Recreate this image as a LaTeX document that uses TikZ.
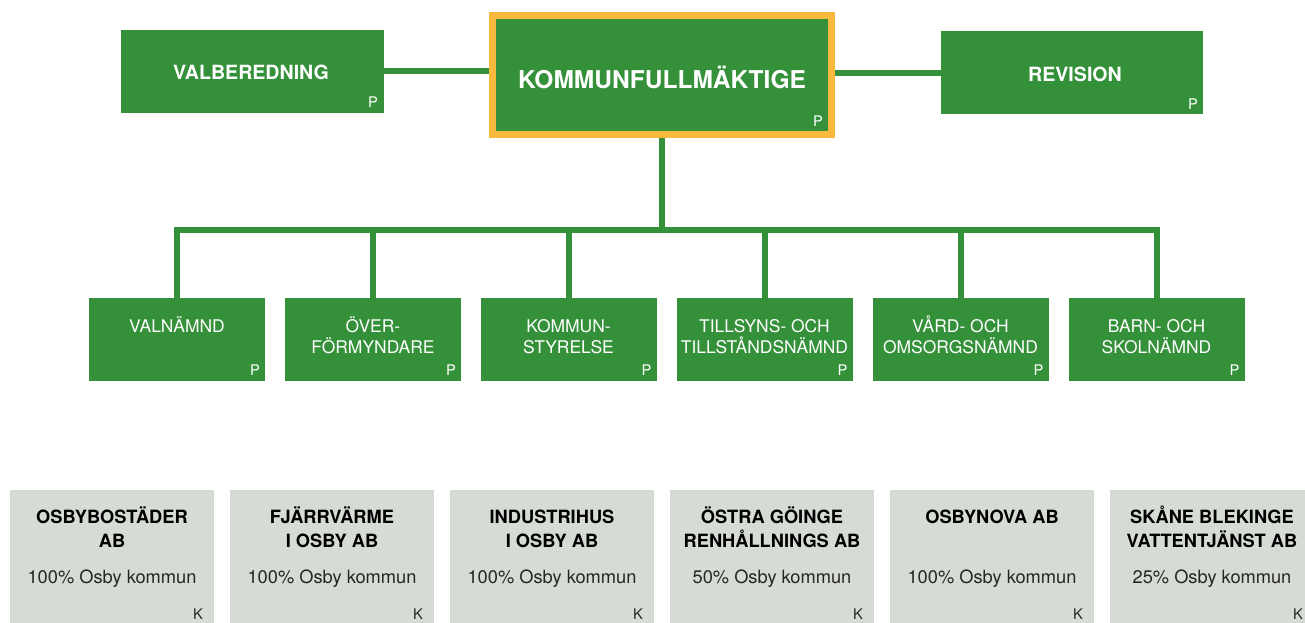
\documentclass[tikz,border=0pt]{standalone}
\usepackage{fontspec}
\setmainfont{TeX Gyre Heros}
\usetikzlibrary{calc}
\definecolor{kgreen}{RGB}{52,145,57}
\definecolor{korange}{RGB}{249,185,60}
\definecolor{kgray}{RGB}{214,219,212}
\newcommand{\tstr}{\rule{0pt}{14pt}}
\tikzset{
  gbox/.style={fill=kgreen, draw=none, inner sep=0pt, outer sep=0pt},
  topbox/.style={gbox, minimum width=197pt, minimum height=62.25pt},
  midbox/.style={gbox, minimum width=132pt, minimum height=62.25pt},
  botbox/.style={fill=kgray, draw=none, inner sep=0pt, outer sep=0pt, minimum width=153pt, minimum height=105pt},
  toptext/.style={text=white, inner sep=0pt, anchor=base, font=\fontsize{14.7}{17}\selectfont\bfseries},
  kftext/.style={text=white, inner sep=0pt, anchor=base, font=\fontsize{18.4}{22}\selectfont\bfseries},
  midtext/.style={text=white, inner sep=0pt, anchor=north, align=center, font=\fontsize{13.1}{15.75}\selectfont},
  bottitle/.style={text=black, inner sep=0pt, anchor=north, align=center, font=\fontsize{13.7}{18}\selectfont\bfseries},
  botpct/.style={text=black!85, inner sep=0pt, anchor=base, font=\fontsize{13.7}{16}\selectfont},
  pmark/.style={text=white, inner sep=0pt, font=\fontsize{11}{12}\selectfont},
  kmark/.style={text=black!85, inner sep=0pt, font=\fontsize{11}{12}\selectfont},
  conn/.style={draw=kgreen, line width=4.5pt}
}
\begin{document}
\begin{tikzpicture}[x=0.75pt,y=-0.75pt]
\useasboundingbox (0,0) rectangle (1305,622);
\clip (0,0) rectangle (1305,622);
% top row
\node[topbox, minimum width=197.25pt] (val) at (252.5,71) {};
\node[toptext] (valt) at (251,79) {VALBEREDNING};
\node[pmark] (valp) at ($(val.south east)+(-11,-10)$) {P};

\node[gbox, draw=korange, line width=5.25pt, outer sep=2.625pt, minimum width=254.25pt, minimum height=89.25pt] (kf) at (662,75) {};
\node[kftext] (kft) at (662,88) {KOMMUNFULLMÄKTIGE};
\node[pmark] (kfp) at ($(kf.south east)+(-17,-17)$) {P};

\node[topbox, minimum width=196.5pt] (rev) at (1072,72.5) {};
\node[toptext] (revt) at (1075,81) {REVISION};
\node[pmark] (revp) at ($(rev.south east)+(-10,-10)$) {P};

\draw[conn] (val.east) -- (val.east -| kf.west);
\draw[conn] (rev.west) -- (rev.west -| kf.east);

% middle row
\foreach \i/\x/\t in {1/177/{VALNÄMND},2/373/{ÖVER-\\FÖRMYNDARE},3/568.5/{KOMMUN-\\STYRELSE},4/764.5/{TILLSYNS- OCH\\TILLSTÅNDSNÄMND},5/960.5/{VÅRD- OCH\\OMSORGSNÄMND},6/1156.5/{BARN- OCH\\SKOLNÄMND}}{
  \node[midbox] (m\i) at (\x,339.5) {};
  \node[midtext] (mt\i) at (\x,313.5) {\tstr\t};
  \node[pmark] (mp\i) at ($(m\i.south east)+(-10,-11)$) {P};
}
\coordinate (bar) at (661,230);
\draw[conn] (kf.south) -- (kf.south |- bar);
\draw[conn, line join=miter] (m1.north) -- (m1.north |- bar) -- (m6.north |- bar) -- (m6.north);
\foreach \i in {2,3,4,5}{
  \draw[conn] (m\i.north |- bar) -- (m\i.north);
}

% bottom row
\foreach \i/\x/\t/\p in {1/112/{OSBYBOSTÄDER\\AB}/{100\% Osby kommun},2/332/{FJÄRRVÄRME\\I OSBY AB}/{100\% Osby kommun},3/552/{INDUSTRIHUS\\I OSBY AB}/{100\% Osby kommun},4/772/{ÖSTRA GÖINGE\\RENHÅLLNINGS AB}/{50\% Osby kommun},5/992/{OSBYNOVA AB}/{100\% Osby kommun},6/1212/{SKÅNE BLEKINGE\\VATTENTJÄNST AB}/{25\% Osby kommun}}{
  \node[botbox] (b\i) at (\x,560) {};
  \node[bottitle] (bt\i) at (\x,504.5) {\tstr\t};
  \node[botpct] (bp\i) at (\x,583.5) {\p};
  \node[kmark] (bk\i) at (\x+86,614) {K};
}
\end{tikzpicture}
\end{document}
